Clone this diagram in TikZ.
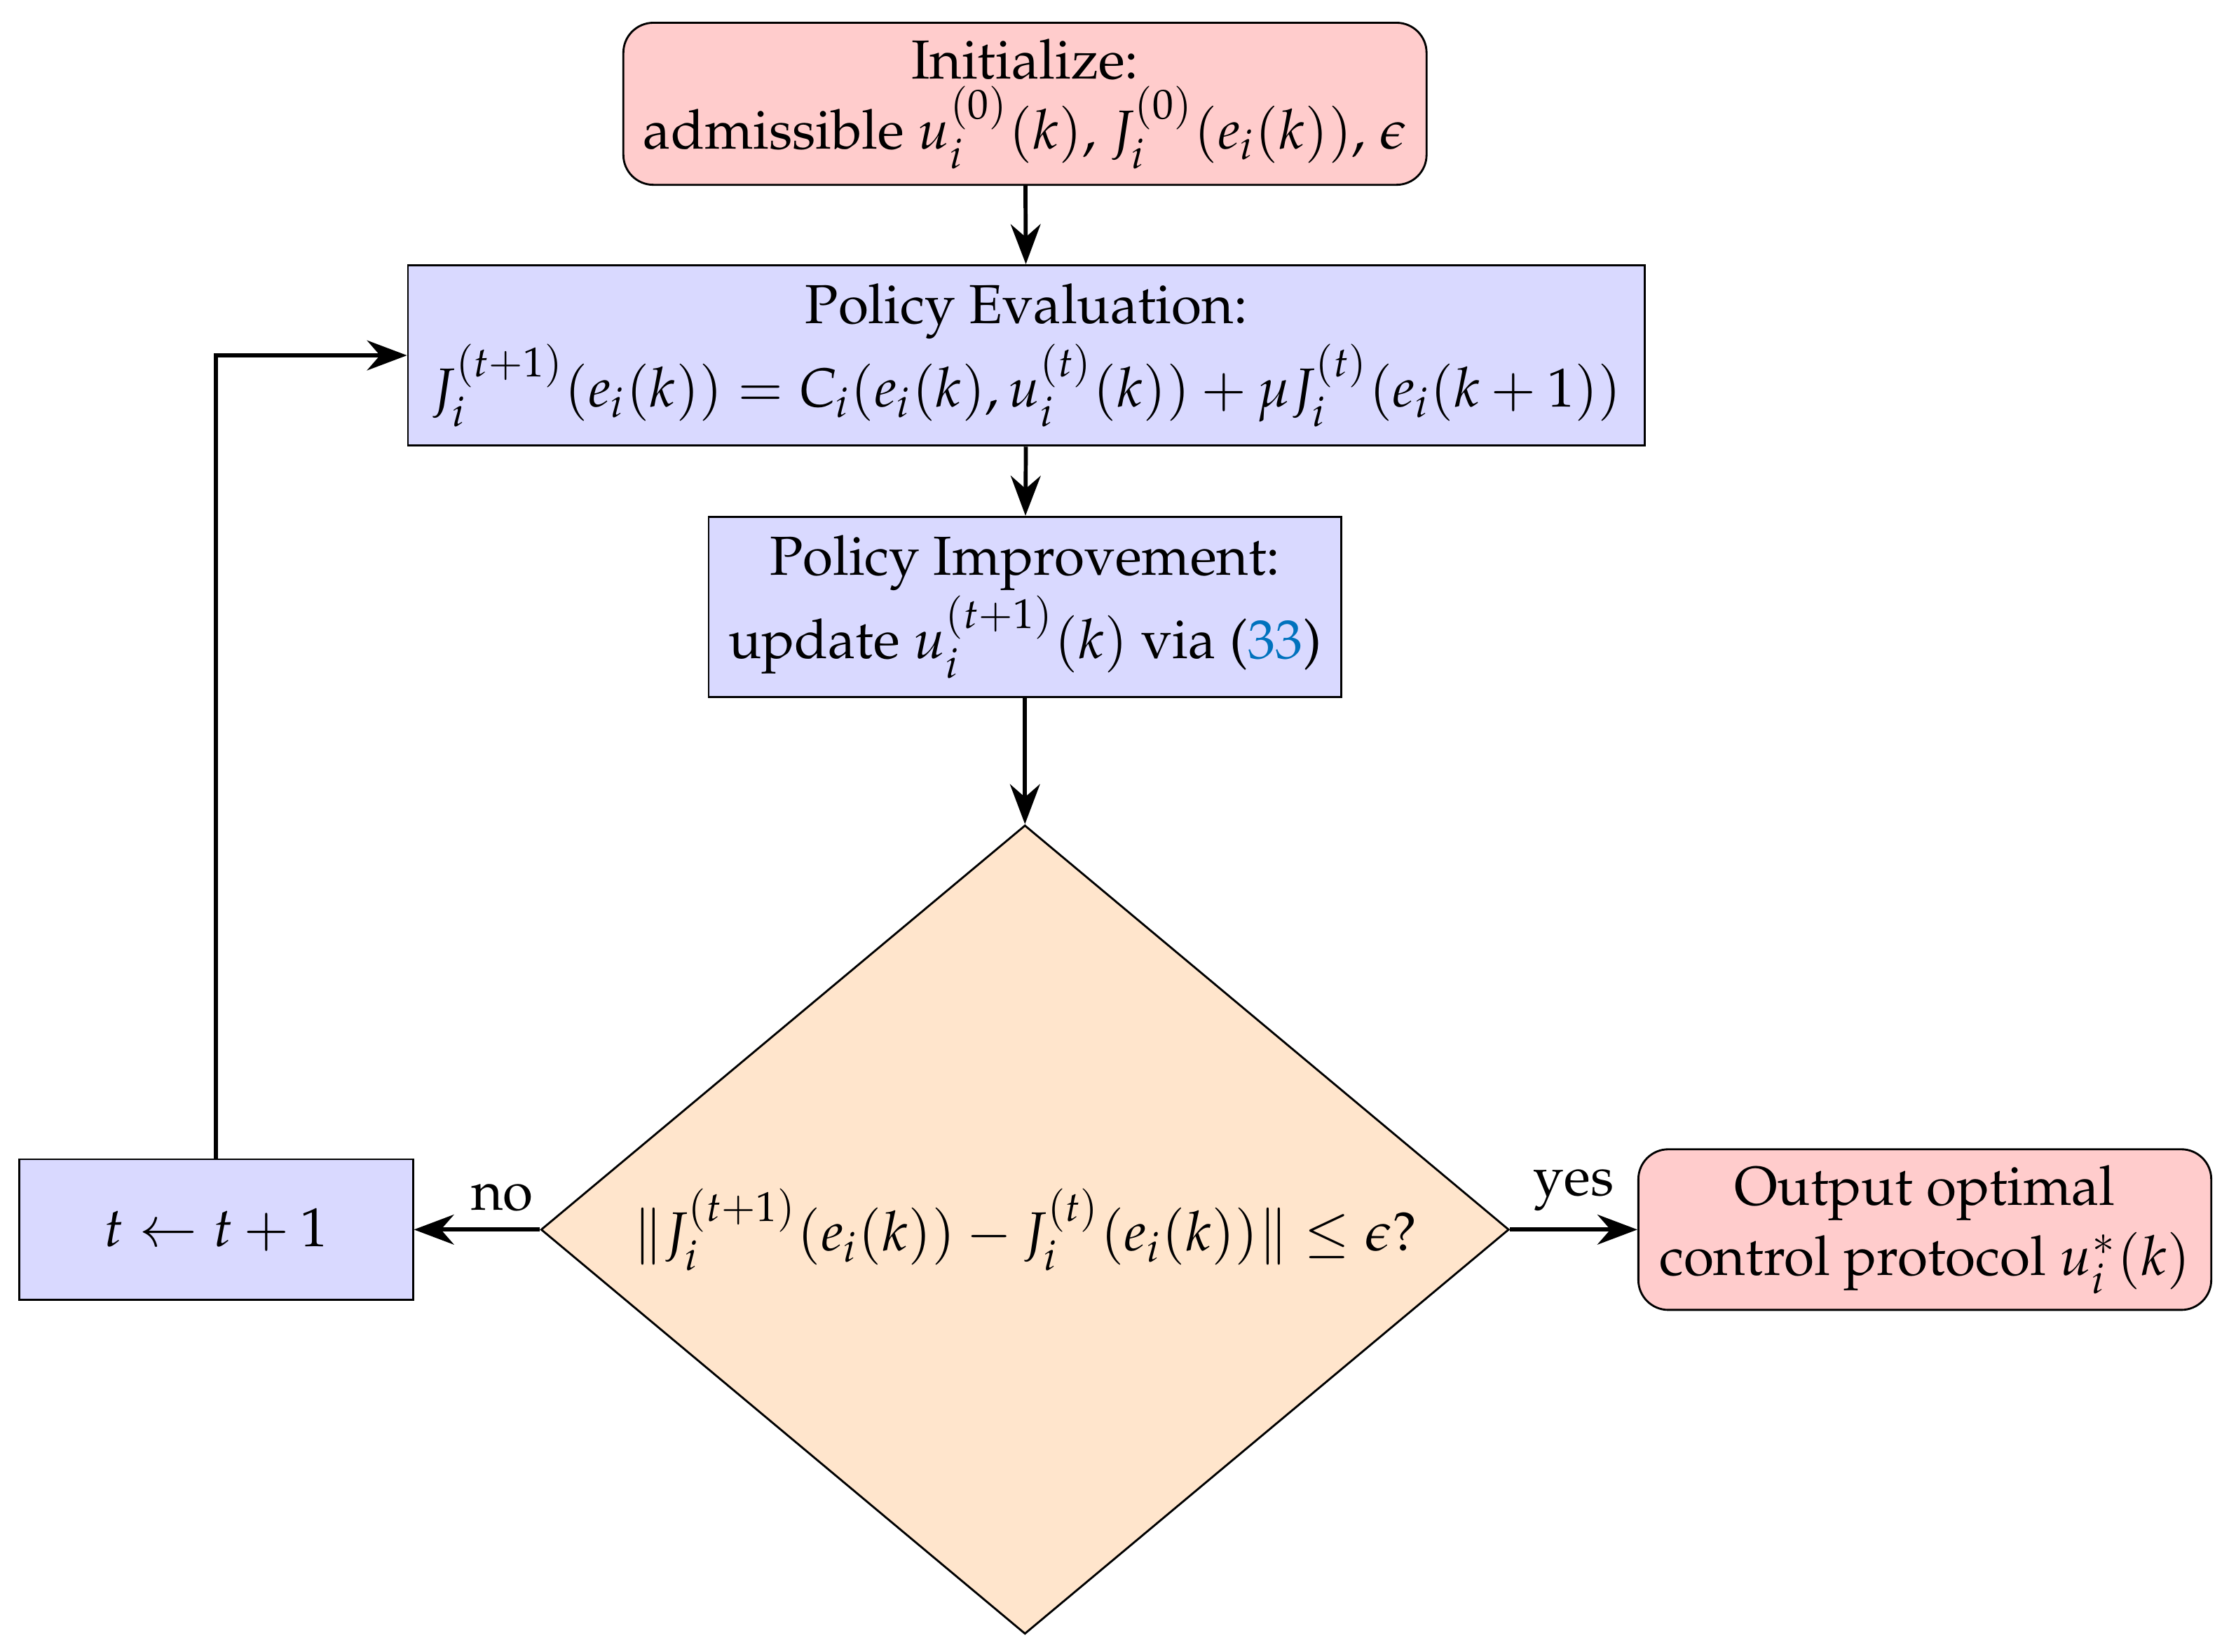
\documentclass[tikz,border=0pt]{standalone}
\usepackage[T1]{fontenc}
\usepackage{mathpazo}
\usepackage{tikz}
\usetikzlibrary{shapes.geometric,arrows.meta}
\definecolor{linkblue}{RGB}{0,114,189}
\tikzset{
	every node/.style={font=\fontsize{11}{14}\selectfont},
	startstop/.style={draw,rounded corners=6pt,fill=red!20,align=center,inner sep=2pt},
	process/.style={draw,fill=blue!15,align=center,inner sep=2pt},
	decision/.style={draw,diamond,aspect=1.2,fill=orange!20,inner sep=0pt},
	flow/.style={-{Stealth[length=8pt,width=6pt]},thick}
}
\begin{document}
\begin{tikzpicture}
		%----------------------------------------------------
		% frame of the picture
		%----------------------------------------------------
		\useasboundingbox (0,0) rectangle (15.68,-11.62);
		
		\node[startstop,minimum width=5.65cm,minimum height=1.14cm] (init) at (7.21,-0.73)
		{Initialize:\\ admissible $u_i^{(0)}(k)$, $J_i^{(0)}(e_i(k))$, $\epsilon$};
		\node[process,minimum width=8.7cm,minimum height=1.27cm] (eval) at (7.22,-2.50)
		{Policy Evaluation:\\ $J_i^{(t+1)}(e_i(k))=C_i(e_i(k),u_i^{(t)}(k))+\mu J_i^{(t)}(e_i(k+1))$};
		\node[process,minimum width=4.45cm,minimum height=1.27cm] (impr) at (7.21,-4.27)
		{Policy Improvement:\\ update $u_i^{(t+1)}(k)$ via ({\color{linkblue}33})};
		\node[decision,minimum width=6.81cm,minimum height=5.69cm] (check) at (7.21,-8.65)
		{$\|J_i^{(t+1)}(e_i(k))-J_i^{(t)}(e_i(k))\|\leq\epsilon$?};
		\node[process,minimum width=2.77cm,minimum height=0.99cm] (incr) at (1.52,-8.65)
		{$t\leftarrow t+1$};
		\node[startstop,minimum width=4.03cm,minimum height=1.13cm] (out) at (13.54,-8.65)
		{Output optimal\\ control protocol $u_i^*(k)$};
		
		\draw[flow] (init) -- (eval);
		\draw[flow] (eval) -- (impr);
		\draw[flow] (impr) -- (check);
		\draw[flow] (check) -- node[above,pos=0.3] {no} (incr);
		\draw[flow] (check) -- node[above,pos=0.5] {yes} (out);
		\draw[flow] (incr.north) |- (eval.west);
	\end{tikzpicture}
\end{document}
